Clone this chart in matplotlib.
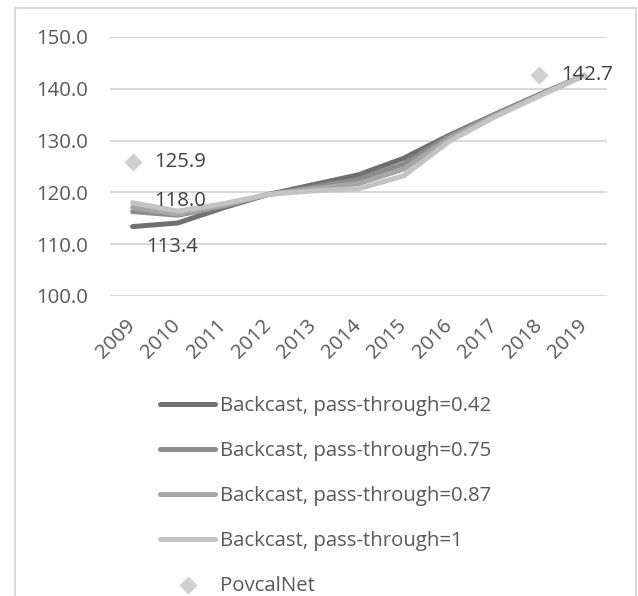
import matplotlib
matplotlib.use("Agg")
import matplotlib.pyplot as plt
from matplotlib.patches import Rectangle

plt.rcParams['font.family'] = ['Open Sans', 'DejaVu Sans']

years = [2009, 2010, 2011, 2012, 2013, 2014, 2015, 2016, 2017, 2018, 2019]
backcast_042 = [113.4, 114.1, 117.0, 119.6, 121.5, 123.4, 126.6, 131.0, 135.0, 138.9, 142.6]
backcast_075 = [116.3, 115.6, 117.3, 119.6, 121.0, 122.5, 125.5, 130.8, 134.9, 138.8, 142.6]
backcast_087 = [117.1, 115.8, 117.5, 119.6, 120.7, 121.7, 124.5, 130.4, 134.7, 138.7, 142.6]
backcast_100 = [118.0, 116.4, 117.8, 119.6, 120.3, 120.7, 123.2, 129.8, 134.5, 138.6, 142.6]
povcal_years = [2009, 2018]
povcal_values = [125.9, 142.7]

series_labels = ["Backcast, pass-through=0.42", "Backcast, pass-through=0.75",
                 "Backcast, pass-through=0.87", "Backcast, pass-through=1"]
series_colors = ["#707070", "#8c8c8c", "#a6a6a6", "#c3c3c3"]
povcal_color = "#d0d0d0"
text_color = "#595959"
grid_color = "#d9d9d9"
FS = 14.7

W, H, DPI = 638, 596, 100
fig = plt.figure(figsize=(W / DPI, H / DPI), dpi=DPI)

def px_rect(x0, y0, x1, y1):
    return [x0 / W, 1 - y1 / H, (x1 - x0) / W, (y1 - y0) / H]

ax = fig.add_axes(px_rect(110, 37, 607, 296))

xpos = list(range(len(years)))
all_series = [backcast_042, backcast_075, backcast_087, backcast_100]
handles = []
for vals, lab, col in zip(all_series, series_labels, series_colors):
    ln, = ax.plot(xpos, vals, color=col, lw=3.6, solid_capstyle='round',
                  solid_joinstyle='round', label=lab, zorder=3)
    handles.append(ln)

pv_x = [years.index(y) for y in povcal_years]
pv = ax.scatter(pv_x, povcal_values, marker='D', s=85, color=povcal_color,
                linewidths=0, zorder=4, label="PovcalNet")

# data labels
lab_kw = dict(fontsize=FS, color="#404040", textcoords='offset pixels', va='center')
ax.annotate(f"{povcal_values[0]:.1f}", (pv_x[0], povcal_values[0]), xytext=(22, 0), ha='left', **lab_kw)
ax.annotate(f"{povcal_values[1]:.1f}", (pv_x[1], povcal_values[1]), xytext=(22, 0), ha='left', **lab_kw)
ax.annotate(f"{backcast_100[0]:.1f}", (0, backcast_100[0]), xytext=(22, 2), ha='left', **lab_kw)
ax.annotate(f"{backcast_042[0]:.1f}", (0, backcast_042[0]), xytext=(14, -20), ha='left', **lab_kw)

ax.set_xlim(-0.5, len(years) - 0.5)
ax.set_ylim(100, 150)
yticks = [100, 110, 120, 130, 140, 150]
ax.set_yticks(yticks)
ax.set_yticklabels([f"{v:.1f}" for v in yticks])
ax.set_xticks(xpos)
ax.set_xticklabels([str(y) for y in years], rotation=45, ha='right', va='center',
                   rotation_mode='anchor')
ax.tick_params(axis='both', length=0, colors=text_color, labelsize=FS)
ax.tick_params(axis='y', pad=16)
ax.tick_params(axis='x', pad=19)
for s in ax.spines.values():
    s.set_visible(False)
ax.grid(axis='y', color=grid_color, lw=1.5)
ax.set_axisbelow(True)

fig.legend(handles + [pv], series_labels + ["PovcalNet"],
           loc='upper left', bbox_to_anchor=(160 / W, 1 - 396 / H),
           frameon=False, fontsize=FS, handlelength=2.7, handletextpad=0.25,
           labelspacing=1.22, borderpad=0, borderaxespad=0, labelcolor=text_color)

# outer chart frame
fig.add_artist(Rectangle((15 / W, -0.05), (636 - 15) / W, 1.05 - 8 / H,
                         transform=fig.transFigure, fill=False,
                         edgecolor=grid_color, lw=1.5))

fig.savefig("out.png", dpi=DPI)
